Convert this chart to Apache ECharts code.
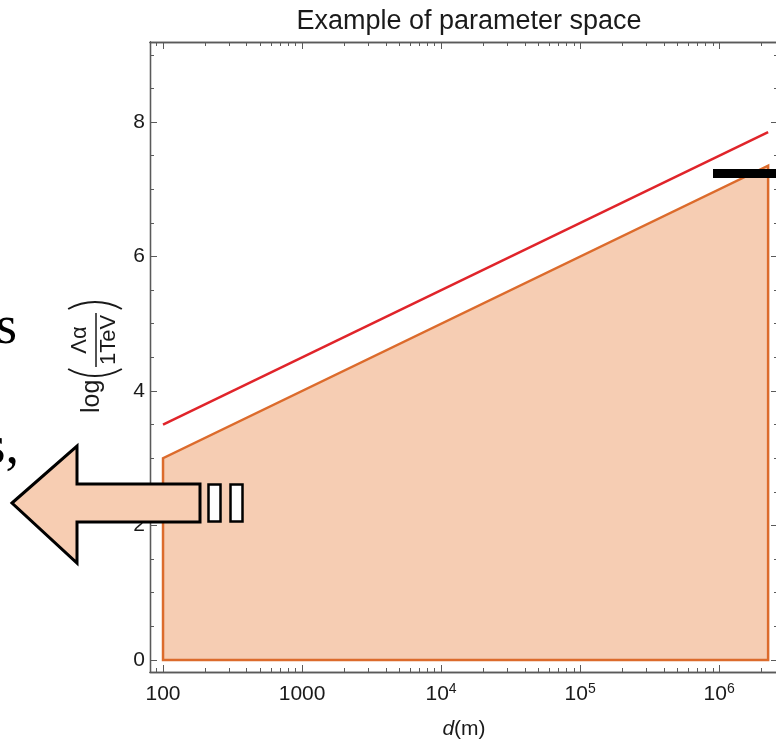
<!DOCTYPE html>
<html>
<head>
<meta charset="utf-8">
<script src="https://cdn.jsdelivr.net/npm/echarts@6/dist/echarts.min.js"></script>
<style>
  html, body { margin: 0; padding: 0; background: #fff; overflow: hidden; }
  #main { width: 776px; height: 741px; }
</style>
</head>
<body>
<div id="main"></div>
<script>
// d in metres, y = log(Λα / 1TeV)
var regionD = [100, 100, 2.25e6, 2.25e6];
var regionY = [0, 3.0, 7.35, 0];
var redD = [100, 2.25e6];
var redY = [3.5, 7.85];

var xRange = [80.6, 2.65e6];
var yRange = [-0.18, 9.19];

var xMajor = [100, 1000, 1e4, 1e5, 1e6];
var xMajorText = ['100', '1000', '10{s|4}', '10{s|5}', '10{s|6}'];
var yMajor = [0, 2, 4, 6, 8];
var yMinor = [0.5, 1, 1.5, 2.5, 3, 3.5, 4.5, 5, 5.5, 6.5, 7, 7.5, 8.5, 9];

var xMinor = [90];
[100, 1000, 1e4, 1e5, 1e6].forEach(function(dec) {
    for (var k = 2; k <= 9; k++) {
        if (dec * k < xRange[1]) xMinor.push(dec * k);
    }
});

var frame = '#5a5a5a';
var lg = function(v) { return Math.log10(v); };
var lx0 = lg(xRange[0]), lx1 = lg(xRange[1]);

function xAxisCfg(pos, ticks, len, withLabel) {
    var ax = {
        type: 'value',
        position: pos,
        min: lx0,
        max: lx1,
        axisLine: {show: true, onZero: false, lineStyle: {color: frame, width: 1.3}},
        axisTick: {show: true, inside: true, length: len, customValues: ticks.map(lg),
                   lineStyle: {color: frame, width: 1}},
        axisLabel: {show: false},
        splitLine: {show: false}
    };
    if (withLabel) {
        ax.axisLabel = {
            show: true,
            customValues: xMajor.map(lg),
            margin: 10,
            formatter: function(v) { return xMajorText[Math.round(v) - 2]; },
            color: '#1a1a1a',
            fontFamily: 'Liberation Sans',
            fontSize: 21,
            lineHeight: 24,
            rich: {
                s: {fontSize: 14, lineHeight: 16, verticalAlign: 'top', color: '#1a1a1a',
                    fontFamily: 'Liberation Sans'}
            }
        };
        ax.name = '{i|d}(m)';
        ax.nameLocation = 'middle';
        ax.nameGap = 47;
        ax.nameTextStyle = {
            color: '#1a1a1a', fontFamily: 'Liberation Sans', fontSize: 21,
            rich: {i: {fontStyle: 'italic', fontSize: 21, fontFamily: 'Liberation Sans', color: '#1a1a1a'}}
        };
    }
    return ax;
}

function yAxisCfg(pos, ticks, len, withLabel) {
    var ax = {
        type: 'value',
        position: pos,
        min: yRange[0],
        max: yRange[1],
        axisLine: {show: true, onZero: false, lineStyle: {color: frame, width: 1.3}},
        axisTick: {show: true, inside: true, length: len, customValues: ticks,
                   lineStyle: {color: frame, width: 1}},
        axisLabel: {show: false},
        splitLine: {show: false}
    };
    if (withLabel) {
        ax.axisLabel = {
            show: true,
            customValues: yMajor,
            margin: 5,
            color: '#1a1a1a',
            fontFamily: 'Liberation Sans',
            fontSize: 21
        };
    }
    return ax;
}

var myChart = echarts.init(document.getElementById('main'));

var option = {
    animation: false,
    backgroundColor: '#fff',
    title: {
        text: 'Example of parameter space',
        left: 464,
        top: 3,
        textAlign: 'center',
        textStyle: {fontFamily: 'Liberation Sans', fontSize: 27, fontWeight: 'normal', color: '#1a1a1a'}
    },
    grid: {left: 150, top: 42, right: -2, bottom: 69, outerBoundsMode: 'none', containLabel: false},
    xAxis: [
        xAxisCfg('bottom', xMajor, 7, true),
        xAxisCfg('bottom', xMinor, 4, false),
        xAxisCfg('top', xMajor, 7, false),
        xAxisCfg('top', xMinor, 4, false)
    ],
    yAxis: [
        yAxisCfg('left', yMajor, 7, true),
        yAxisCfg('left', yMinor, 4, false),
        yAxisCfg('right', yMajor, 7, false),
        yAxisCfg('right', yMinor, 4, false)
    ],
    series: [
        {
            type: 'custom',
            xAxisIndex: 0,
            yAxisIndex: 0,
            z: 2,
            data: regionD.map(function(d, i) { return [lg(d), regionY[i]]; }),
            renderItem: function(params, api) {
                if (params.dataIndex !== 0) return null;
                var pts = regionD.map(function(d, i) { return api.coord([lg(d), regionY[i]]); });
                return {
                    type: 'polygon',
                    shape: {points: pts},
                    style: {fill: '#f6cdb3', stroke: '#dc6b2c', lineWidth: 2.5, lineJoin: 'miter'}
                };
            }
        },
        {
            type: 'line',
            xAxisIndex: 0,
            yAxisIndex: 0,
            z: 3,
            showSymbol: false,
            data: redD.map(function(d, i) { return [lg(d), redY[i]]; }),
            lineStyle: {color: '#e0242a', width: 2.5}
        }
    ],
    graphic: [
        // y axis label: log( Λα / 1TeV ), rotated
        {
            type: 'group',
            x: 96,
            y: 357,
            rotation: Math.PI / 2,
            children: [
                {type: 'text', x: -56, y: -4,
                 style: {text: 'log', font: '25px "Liberation Sans"', fill: '#1a1a1a',
                         align: 'left', verticalAlign: 'middle'}},
                {type: 'arc', shape: {cx: -19 + 55, cy: -1, r: 55, startAngle: Math.PI - 0.51, endAngle: Math.PI + 0.51},
                 style: {stroke: '#1a1a1a', lineWidth: 2, fill: null}},
                {type: 'text', x: 17, y: -16,
                 style: {text: 'Λα', font: '22px "Liberation Sans"', fill: '#1a1a1a',
                         align: 'center', verticalAlign: 'middle'}},
                {type: 'line', shape: {x1: -10, y1: 0, x2: 44, y2: 0},
                 style: {stroke: '#1a1a1a', lineWidth: 1.5}},
                {type: 'text', x: 17, y: 13,
                 style: {text: '1TeV', font: '22px "Liberation Sans"', fill: '#1a1a1a',
                         align: 'center', verticalAlign: 'middle'}},
                {type: 'arc', shape: {cx: 55 - 55, cy: -1, r: 55, startAngle: -0.51, endAngle: 0.51},
                 style: {stroke: '#1a1a1a', lineWidth: 2, fill: null}}
            ]
        },
        // black marker bar at the right
        {type: 'rect', z: 20, shape: {x: 713, y: 169, width: 70, height: 9}, style: {fill: '#000'}},
        // slide text fragments on the left edge
        {type: 'text', z: 20, x: 17, y: 329,
         style: {text: 's', font: '54px "Liberation Serif"', fill: '#000', align: 'right', verticalAlign: 'middle'}},
        {type: 'text', z: 20, x: 19, y: 449,
         style: {text: 's,', font: '54px "Liberation Serif"', fill: '#000', align: 'right', verticalAlign: 'middle'}},
        // big arrow
        {type: 'polygon', z: 20,
         shape: {points: [[12, 503], [77, 446], [77, 484], [200, 484], [200, 522], [77, 522], [77, 563]]},
         style: {fill: '#f7cdb2', stroke: '#000', lineWidth: 3, lineJoin: 'miter'}},
        {type: 'rect', z: 20, shape: {x: 208.5, y: 484.5, width: 12, height: 37},
         style: {fill: '#fff', stroke: '#000', lineWidth: 2.5}},
        {type: 'rect', z: 20, shape: {x: 230.5, y: 484.5, width: 12, height: 37},
         style: {fill: '#fff', stroke: '#000', lineWidth: 2.5}}
    ]
};

myChart.setOption(option);
</script>
</body>
</html>
